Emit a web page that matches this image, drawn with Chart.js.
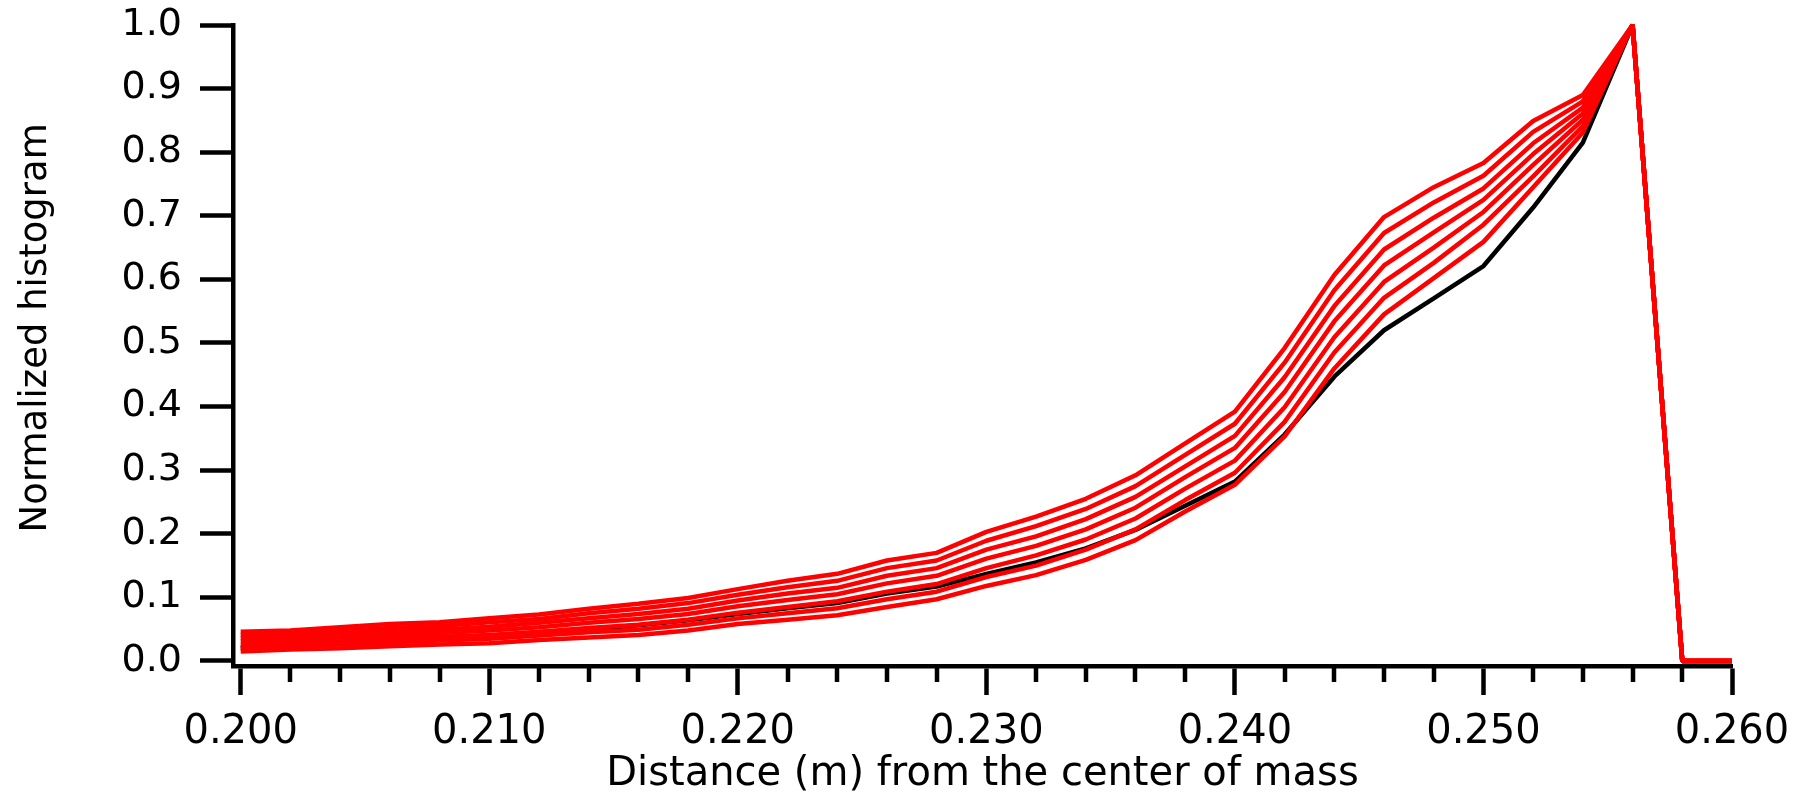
<!DOCTYPE html>
<html>
<head>
<meta charset="utf-8">
<script src="https://cdn.jsdelivr.net/npm/chart.js@4.4.1/dist/chart.umd.min.js"></script>
<style>
  html, body { margin: 0; padding: 0; background: #fff; }
  #wrap { width: 1793px; height: 796px; }
</style>
</head>
<body>
<div id="wrap"><canvas id="histChart" width="1793" height="796"></canvas></div>
<script>
// Distância (m) a partir do centro de massa
const distances = [0.200, 0.202, 0.204, 0.206, 0.208, 0.210, 0.212, 0.214, 0.216, 0.218,
  0.220, 0.222, 0.224, 0.226, 0.228, 0.230, 0.232, 0.234, 0.236, 0.238,
  0.240, 0.242, 0.244, 0.246, 0.248, 0.250, 0.252, 0.254, 0.256, 0.258, 0.260];

// Curvas vermelhas (de cima para baixo)
const red1 = [0.046, 0.048, 0.053, 0.058, 0.061, 0.067, 0.073, 0.082, 0.090, 0.099,
  0.113, 0.126, 0.137, 0.158, 0.170, 0.203, 0.227, 0.255, 0.292, 0.342,
  0.392, 0.492, 0.607, 0.698, 0.745, 0.783, 0.849, 0.890, 1.0, 0, 0];
const red2 = [0.041, 0.043, 0.047, 0.052, 0.055, 0.061, 0.066, 0.075, 0.082, 0.091,
  0.104, 0.116, 0.126, 0.146, 0.158, 0.189, 0.212, 0.239, 0.275, 0.324,
  0.373, 0.469, 0.583, 0.673, 0.721, 0.763, 0.832, 0.880, 1.0, 0, 0];
const red3 = [0.036, 0.038, 0.042, 0.046, 0.049, 0.054, 0.060, 0.067, 0.074, 0.082,
  0.095, 0.106, 0.115, 0.134, 0.146, 0.175, 0.196, 0.223, 0.258, 0.306,
  0.354, 0.446, 0.558, 0.647, 0.697, 0.743, 0.814, 0.870, 1.0, 0, 0];
const red4 = [0.031, 0.033, 0.037, 0.041, 0.044, 0.048, 0.053, 0.060, 0.066, 0.074,
  0.086, 0.096, 0.105, 0.122, 0.134, 0.161, 0.181, 0.207, 0.241, 0.289,
  0.335, 0.423, 0.534, 0.622, 0.674, 0.725, 0.797, 0.861, 1.0, 0, 0];
const red5 = [0.025, 0.028, 0.031, 0.035, 0.038, 0.041, 0.046, 0.052, 0.057, 0.065,
  0.076, 0.085, 0.094, 0.109, 0.121, 0.146, 0.166, 0.191, 0.224, 0.271,
  0.315, 0.399, 0.509, 0.596, 0.650, 0.706, 0.780, 0.851, 1.0, 0, 0];
const red6 = [0.020, 0.023, 0.026, 0.029, 0.032, 0.035, 0.040, 0.045, 0.049, 0.057,
  0.067, 0.075, 0.083, 0.097, 0.109, 0.132, 0.150, 0.175, 0.207, 0.253,
  0.296, 0.376, 0.485, 0.571, 0.626, 0.686, 0.762, 0.841, 1.0, 0, 0];
const red7 = [0.015, 0.018, 0.020, 0.023, 0.026, 0.028, 0.033, 0.037, 0.041, 0.048,
  0.058, 0.065, 0.072, 0.085, 0.097, 0.118, 0.135, 0.159, 0.190, 0.235,
  0.277, 0.353, 0.460, 0.545, 0.602, 0.659, 0.745, 0.831, 1.0, 0, 0];

// Curva preta (referência)
const black = [0.021, 0.024, 0.027, 0.031, 0.035, 0.039, 0.044, 0.050, 0.056, 0.064,
  0.074, 0.083, 0.091, 0.106, 0.117, 0.137, 0.155, 0.177, 0.206, 0.244,
  0.282, 0.356, 0.447, 0.520, 0.570, 0.621, 0.713, 0.815, 1.0, 0, 0];

const redSeries = [red1, red2, red3, red4, red5, red6, red7];

// Marcas dos eixos
const xMajorTicks = [0.200, 0.210, 0.220, 0.230, 0.240, 0.250, 0.260];
const xMinorTicks = [0.202, 0.204, 0.206, 0.208, 0.212, 0.214, 0.216, 0.218,
  0.222, 0.224, 0.226, 0.228, 0.232, 0.234, 0.236, 0.238,
  0.242, 0.244, 0.246, 0.248, 0.252, 0.254, 0.256, 0.258];
const yTicks = [0.0, 0.1, 0.2, 0.3, 0.4, 0.5, 0.6, 0.7, 0.8, 0.9, 1.0];

const toPoints = arr => arr.map((v, i) => ({ x: distances[i], y: v }));

const lineW = 4.5;

const datasets = redSeries.map((s, i) => ({
  label: 'red ' + (i + 1),
  data: toPoints(s),
  borderColor: '#ff0000',
  borderWidth: lineW,
  borderJoinStyle: 'bevel',
  pointRadius: 0,
  tension: 0,
  clip: false
}));
// a preta vai por baixo das vermelhas (último dataset é desenhado primeiro)
datasets.push({
  label: 'black',
  data: toPoints(black),
  borderColor: '#000000',
  borderWidth: lineW,
  borderJoinStyle: 'bevel',
  pointRadius: 0,
  tension: 0,
  clip: false
});

// Marcas secundárias do eixo x (mais curtas)
const minorTickPlugin = {
  id: 'minorTicks',
  afterDraw(chart) {
    const xs = chart.scales.x;
    const ctx = chart.ctx;
    ctx.save();
    ctx.strokeStyle = '#000';
    ctx.lineWidth = lineW;
    ctx.beginPath();
    xMinorTicks.forEach(v => {
      const px = Math.round(xs.getPixelForValue(v));
      ctx.moveTo(px, xs.top + 2);
      ctx.lineTo(px, xs.top + 16);
    });
    ctx.stroke();
    ctx.restore();
  }
};

const font = 'DejaVu Sans';

new Chart(document.getElementById('histChart'), {
  type: 'line',
  data: { datasets },
  options: {
    responsive: false,
    animation: false,
    devicePixelRatio: 1,
    layout: { padding: { top: 25, right: 61, left: 0, bottom: 0 } },
    plugins: { legend: { display: false }, tooltip: { enabled: false } },
    scales: {
      x: {
        type: 'linear',
        position: 'bottom',
        min: 0.19969,
        max: 0.260,
        afterBuildTicks: s => { s.ticks = xMajorTicks.map(v => ({ value: v })); },
        afterFit: s => { s.height = 130; s.paddingLeft = 0; s.paddingRight = 0; },
        ticks: {
          color: '#000',
          font: { family: font, size: 40 },
          padding: 14,
          maxRotation: 0,
          autoSkip: false,
          callback: v => Number(v).toFixed(3)
        },
        grid: { drawOnChartArea: false, drawTicks: true, tickLength: 29, tickWidth: lineW, tickColor: '#000' },
        border: { display: true, width: lineW, color: '#000' },
        title: {
          display: true,
          text: 'Distance (m) from the center of mass',
          color: '#000',
          font: { family: font, size: 40, lineHeight: 1.0 },
          padding: { top: 0, bottom: 1 }
        }
      },
      y: {
        type: 'linear',
        position: 'left',
        min: -0.0079,
        max: 1.0,
        afterBuildTicks: s => { s.ticks = yTicks.map(v => ({ value: v })); },
        afterFit: s => { s.width = 233; s.paddingTop = 0; s.paddingBottom = 0; },
        ticks: {
          color: '#000',
          font: { family: font, size: 38 },
          padding: 18,
          autoSkip: false,
          callback: v => Number(v).toFixed(1)
        },
        grid: { drawOnChartArea: false, drawTicks: true, tickLength: 33, tickWidth: lineW, tickColor: '#000' },
        border: { display: true, width: lineW, color: '#000' },
        title: {
          display: true,
          text: '   Normalized histogram',
          color: '#000',
          font: { family: font, size: 37, lineHeight: 1.2 },
          padding: { top: 14, bottom: 0 }
        }
      }
    }
  },
  plugins: [minorTickPlugin]
});
</script>
</body>
</html>
